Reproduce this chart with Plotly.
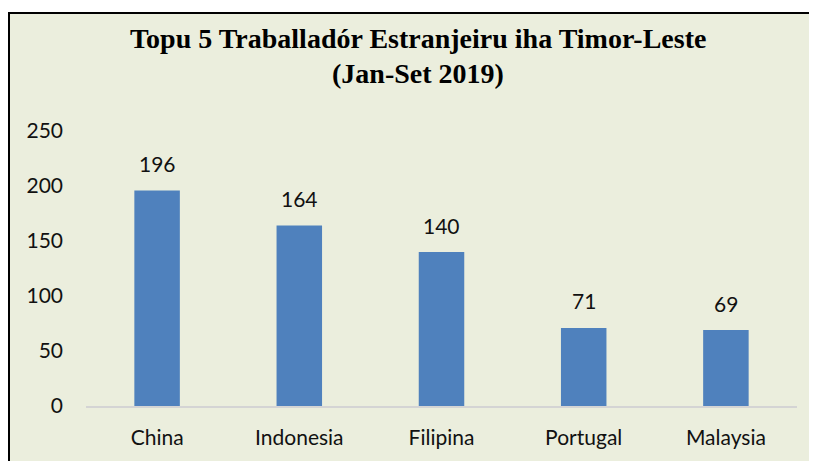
import plotly.graph_objects as go

categories = ["China", "Indonesia", "Filipina", "Portugal", "Malaysia"]
values = [196, 164, 140, 71, 69]
title_line1 = "Topu 5 Traballadór Estranjeiru iha Timor-Leste"
title_line2 = "(Jan-Set 2019)"

W, H = 817, 461
OFF = 8  # page body margin offset
L, R, T, B = 86 - OFF, 797 - OFF, 131 - OFF, 406 - OFF  # plot area pixels

def px(x):
    return (x - OFF - L) / (R - L)

def py(y):
    return (B - (y - OFF)) / (B - T)

FONT = "Lato, Open Sans, sans-serif"

fig = go.Figure(go.Bar(
    x=categories, y=values,
    marker=dict(color="#4f81bd", line=dict(width=0)),
    cliponaxis=False,
))

annotations = [
    dict(x=c, y=v, xref="x", yref="y", text=str(v), showarrow=False,
         yanchor="middle", yshift=27,
         font=dict(family=FONT, size=21, color="#111111"))
    for c, v in zip(categories, values)
]
annotations += [
    dict(text="<b>" + title_line1 + "</b>", xref="paper", yref="paper",
         x=px(418), y=py(38), xanchor="center", yanchor="middle", showarrow=False,
         font=dict(family="Liberation Serif, Times New Roman, serif", size=28, color="black")),
    dict(text="<b>" + title_line2 + "</b>", xref="paper", yref="paper",
         x=px(418), y=py(73), xanchor="center", yanchor="middle", showarrow=False,
         font=dict(family="Liberation Serif, Times New Roman, serif", size=28, color="black")),
]

fig.update_layout(
    width=W, height=H,
    margin=dict(l=L, r=W - R, t=T, b=H - B),
    paper_bgcolor="white", plot_bgcolor="rgba(0,0,0,0)",
    bargap=0.68,
    showlegend=False,
    font=dict(family=FONT, size=21, color="#111111"),
    xaxis=dict(showline=True, linecolor="#d4d4d4", linewidth=2, ticks="",
               tickfont=dict(size=21), showgrid=False, ticklabelstandoff=12),
    yaxis=dict(range=[0, 250], dtick=50, showgrid=False, zeroline=False,
               showline=False, ticks="", tickfont=dict(size=21), ticklabelstandoff=22),
    shapes=[dict(type="rect", xref="paper", yref="paper",
                 x0=px(9), x1=px(840), y0=py(480), y1=py(13),
                 fillcolor="#ebeedd", line=dict(color="black", width=2), layer="below")],
    annotations=annotations,
)

fig.write_html("out.html")
